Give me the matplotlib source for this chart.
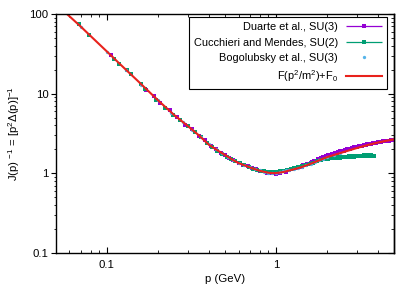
"""Inverse dressing function J(p)^-1 vs momentum, lattice data and fit
"""

import matplotlib
matplotlib.use("Agg")
import matplotlib.pyplot as plt
import numpy as np
from matplotlib.legend_handler import HandlerErrorbar

plt.rcParams['font.family'] = ['Liberation Sans', 'DejaVu Sans']
plt.rcParams['mathtext.default'] = 'regular'

# Duarte et al., SU(3)
p_duarte = [0.105, 0.17, 0.19, 0.205, 0.235, 0.26, 0.29, 0.32, 0.35, 0.38,
            0.41, 0.44, 0.47, 0.5, 0.53, 0.56, 0.6, 0.64, 0.68, 0.72,
            0.76, 0.8, 0.84, 0.88, 0.92, 0.96, 1.0, 1.05, 1.1, 1.15,
            1.2, 1.26, 1.32, 1.38, 1.42, 1.45, 1.49, 1.52, 1.56, 1.6,
            1.64, 1.68, 1.72, 1.76, 1.8, 1.85, 1.9, 1.94, 1.98, 2.03,
            2.08, 2.13, 2.18, 2.23, 2.28, 2.34, 2.4, 2.45, 2.51, 2.57,
            2.63, 2.69, 2.75, 2.82, 2.88, 2.95, 3.02, 3.09, 3.16, 3.24,
            3.31, 3.39, 3.47, 3.55, 3.63, 3.72, 3.81, 3.9, 3.99, 4.08,
            4.17, 4.27, 4.37, 4.47, 4.57, 4.68, 4.79, 4.9]
j_duarte = [30.4, 11.2, 9.4, 7.7, 6.2, 5.15, 4.1, 3.58, 2.95, 2.6,
            2.2, 2.05, 1.82, 1.72, 1.57, 1.49, 1.36, 1.26, 1.23, 1.16,
            1.13, 1.07, 1.06, 1.02, 1.0, 1.02, 0.98, 1.01, 1.06, 1.05,
            1.1, 1.14, 1.17, 1.2, 1.22, 1.26, 1.27, 1.31, 1.33, 1.37,
            1.38, 1.44, 1.45, 1.5, 1.51, 1.56, 1.6, 1.63, 1.64, 1.7,
            1.7, 1.74, 1.77, 1.81, 1.82, 1.86, 1.9, 1.93, 1.93, 1.97,
            2.01, 2.04, 2.05, 2.08, 2.12, 2.15, 2.16, 2.2, 2.21, 2.24,
            2.27, 2.3, 2.31, 2.34, 2.36, 2.38, 2.41, 2.43, 2.45, 2.48,
            2.48, 2.52, 2.53, 2.57, 2.56, 2.58, 2.6, 2.62]

# Cucchieri and Mendes, SU(2)
p_cucchieri = [0.068, 0.078, 0.110, 0.118, 0.132, 0.138, 0.159, 0.168, 0.194, 0.221,
               0.245, 0.27, 0.3, 0.33, 0.36, 0.39, 0.42, 0.45, 0.48, 0.51,
               0.54, 0.57, 0.61, 0.65, 0.69, 0.73, 0.77, 0.81, 0.85, 0.9,
               0.95, 1.0, 1.05, 1.1, 1.16, 1.22, 1.28, 1.35, 1.42, 1.5,
               1.58, 1.66, 1.75, 1.84, 1.94, 2.04, 2.1, 2.15, 2.2, 2.26,
               2.32, 2.38, 2.44, 2.5, 2.56, 2.63, 2.7, 2.77, 2.84, 2.91,
               2.98, 3.06, 3.14, 3.22, 3.3, 3.39, 3.47, 3.56, 3.63, 3.7, 3.8]
j_cucchieri = [73.9, 54.0, 26.9, 23.9, 19.7, 17.6, 13.1, 11.6, 8.45, 6.7,
               5.45, 4.7, 3.9, 3.35, 2.85, 2.42, 2.12, 1.9, 1.74, 1.62,
               1.5, 1.43, 1.34, 1.26, 1.2, 1.15, 1.11, 1.08, 1.06, 1.05,
               1.04, 1.05, 1.06, 1.08, 1.1, 1.13, 1.16, 1.2, 1.24, 1.28,
               1.33, 1.37, 1.42, 1.46, 1.5, 1.53, 1.56, 1.55, 1.59, 1.58,
               1.6, 1.58, 1.62, 1.6, 1.63, 1.61, 1.64, 1.62, 1.65, 1.63,
               1.66, 1.64, 1.67, 1.66, 1.69, 1.67, 1.69, 1.66, 1.68, 1.65, 1.64]

# Bogolubsky et al., SU(3)
p_bogolubsky = [0.07, 0.1, 0.13, 0.16, 0.2, 0.24, 0.28, 0.32, 0.36, 0.4,
                0.44, 0.48, 0.52, 0.56, 0.6, 0.65, 0.7, 0.75, 0.8, 0.85,
                0.9, 0.95, 1.0, 1.05, 1.1, 1.15, 1.2, 1.27, 1.34, 1.42,
                1.5, 1.6, 1.7, 1.8, 1.9, 2.0, 2.2, 2.4]
j_bogolubsky = [69.0, 33.5, 19.8, 13.0, 8.3, 5.8, 4.4, 3.55, 2.88, 2.32,
                2.0, 1.78, 1.6, 1.48, 1.37, 1.27, 1.2, 1.13, 1.09, 1.05,
                1.02, 1.0, 1.01, 1.05, 1.07, 1.09, 1.12, 1.15, 1.17, 1.22,
                1.27, 1.33, 1.4, 1.47, 1.53, 1.6, 1.7, 1.78]

# fit F(p^2/m^2)+F_0
p_fit = [0.058, 0.07, 0.08, 0.1, 0.12, 0.15, 0.2, 0.25, 0.3, 0.35,
         0.4, 0.45, 0.5, 0.56, 0.6, 0.7, 0.8, 0.9, 0.95, 1.0,
         1.1, 1.2, 1.4, 1.6, 1.8, 2.0, 2.5, 3.0, 3.5, 4.0,
         4.5, 5.0]
j_fit = [100.0, 69.5, 53.0, 33.8, 23.3, 14.9, 8.3, 5.4, 3.95, 3.0,
         2.3, 1.95, 1.7, 1.46, 1.35, 1.19, 1.08, 1.02, 1.01, 1.01,
         1.04, 1.09, 1.19, 1.32, 1.46, 1.6, 1.85, 2.08, 2.28, 2.44,
         2.57, 2.68]

labels = ['Duarte et al., SU(3)', 'Cucchieri and Mendes, SU(2)',
          'Bogolubsky et al., SU(3)', 'F(p$^2$/m$^2$)+F$_0$']

purple = '#9400d3'
green = '#009e73'
blue = '#56b4e9'
red = '#e8221c'
fs = 8.2

fig = plt.figure(figsize=(4.15, 2.91), dpi=100)
ax = fig.add_axes([0.135, 0.13, 0.815, 0.822])

ax.plot(p_duarte, j_duarte, 's', ms=2.8, color=purple, mew=0)
ax.plot(p_cucchieri, j_cucchieri, 's', ms=2.8, color=green, mew=0)
ax.plot(p_bogolubsky, j_bogolubsky, 'o', ms=2.4, color=blue, mew=0)
ax.plot(p_fit, j_fit, '-', lw=1.5, color=red)

ax.set_xscale('log')
ax.set_yscale('log')
ax.set_xlim(0.05, 5)
ax.set_ylim(0.1, 100)
ax.set_xticks([0.1, 1])
ax.set_xticklabels(['0.1', '1'])
ax.set_yticks([0.1, 1, 10, 100])
ax.set_yticklabels(['0.1', '1', '10', '100'])

ax.tick_params(axis='x', which='both', direction='in', top=True, labelsize=fs, pad=5)
ax.tick_params(axis='x', which='major', length=4, width=0.8)
ax.tick_params(axis='x', which='minor', length=2, width=0.6)
ax.tick_params(axis='y', which='both', direction='out', right=False, labelsize=fs, pad=2)
ax.tick_params(axis='y', which='major', length=3.5, width=0.8)
ax.tick_params(axis='y', which='minor', length=1.8, width=0.6)
ax.xaxis.set_minor_formatter(matplotlib.ticker.NullFormatter())
ax.yaxis.set_minor_formatter(matplotlib.ticker.NullFormatter())

# inward ticks on the right side, like gnuplot mirror
sec = ax.secondary_yaxis('right')
sec.tick_params(which='both', direction='in', labelright=False)
sec.tick_params(which='major', length=4, width=0.8)
sec.tick_params(which='minor', length=2, width=0.6)
sec.set_yticks([0.1, 1, 10, 100])

for s in ax.spines.values():
    s.set_linewidth(1.0)
sec.spines['right'].set_linewidth(1.0)

ax.set_xlabel('p (GeV)', fontsize=fs, labelpad=3)
ax.set_ylabel('J(p) $^{-1}$ = [p$^2$$\\Delta$(p)]$^{-1}$', fontsize=fs, labelpad=5)

# legend samples drawn like gnuplot errorbar keys
h_d = ax.errorbar([np.nan], [np.nan], xerr=[0.0], fmt='s', ms=2.4, mew=0,
                  color=purple, lw=0.9, capsize=2.5)
h_c = ax.errorbar([np.nan], [np.nan], xerr=[0.0], fmt='s', ms=2.4, mew=0,
                  color=green, lw=0.9, capsize=2.5)
h_b, = ax.plot([], [], 'o', ms=2.4, color=blue, mew=0)
h_f, = ax.plot([], [], '-', lw=1.5, color=red)

leg = ax.legend([h_d, h_c, h_b, h_f], labels, loc='upper right',
                bbox_to_anchor=(0.978, 0.987), borderaxespad=0,
                markerfirst=False, fontsize=7.9, handlelength=3.3,
                handletextpad=0.7, labelspacing=0.5, borderpad=0.45,
                fancybox=False, framealpha=1, edgecolor='black', numpoints=1,
                handler_map={h_d: HandlerErrorbar(xerr_size=1.65),
                             h_c: HandlerErrorbar(xerr_size=1.65)})
leg.get_frame().set_linewidth(0.8)

fig.savefig('out.png', dpi=100)
